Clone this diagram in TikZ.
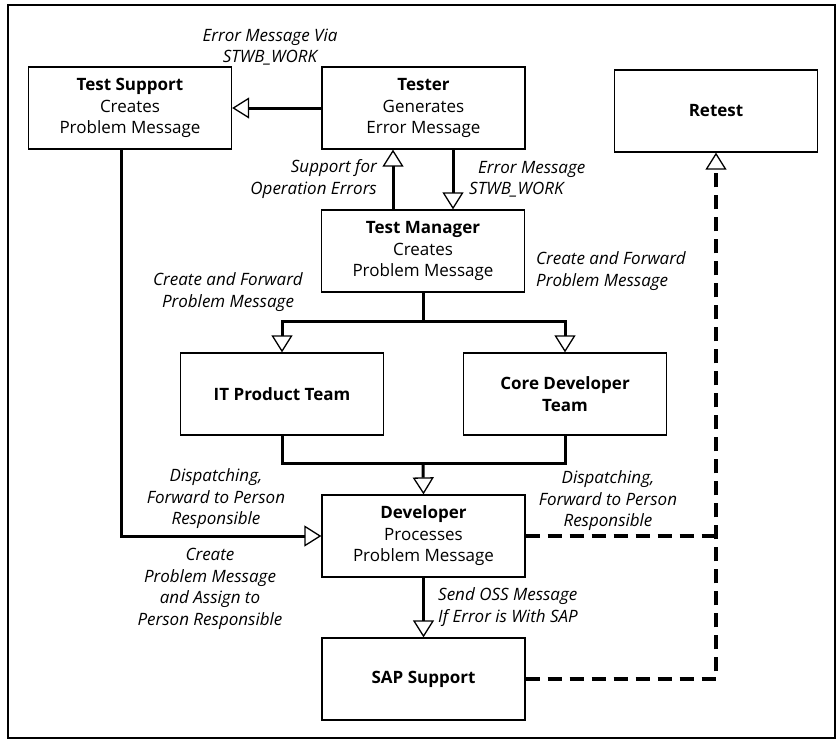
\documentclass[tikz,border=0pt]{standalone}
\usepackage{fontspec}
\setmainfont{Open Sans}
\usetikzlibrary{arrows.meta}
\begin{document}
\begin{tikzpicture}[x=1pt,y=-1pt,
  font=\fontsize{17}{21.5}\selectfont,
  box/.style={draw, line width=1.3pt, minimum width=203pt, minimum height=82pt,
    align=center, inner sep=2pt},
  flow/.style={line width=3pt},
  hollow/.style={-{Triangle[open, length=17pt, width=21pt, line width=1.3pt]}},
  dashline/.style={line width=3.6pt, dash pattern=on 14pt off 8pt},
  lbl/.style={font=\fontsize{17}{21.5}\selectfont\itshape, align=center, inner sep=0pt}]
% page and frame
\useasboundingbox (0,0) rectangle (840,740);
\fill[white] (0,0) rectangle (840,740);
\draw[line width=2pt] (8,5) rectangle (835,738);

% boxes
\node[box] (ts) at (130,108) {\textbf{Test Support}\\Creates\\Problem Message};
\node[box] (tester) at (423.5,108) {\textbf{Tester}\\Generates\\Error Message};
\node[box] (retest) at (716,111) {\textbf{Retest}};
\node[box] (tm) at (423,251) {\textbf{Test Manager}\\Creates\\Problem Message};
\node[box] (it) at (282,394) {\textbf{IT Product Team}};
\node[box] (core) at (565,394) {\textbf{Core Developer}\\\textbf{Team}};
\node[box] (dev) at (423.5,536) {\textbf{Developer}\\Processes\\Problem Message};
\node[box] (sap) at (423.5,679) {\textbf{SAP Support}};

% junction points
\coordinate (split) at (423,321);
\coordinate (merge) at (423,463);
\coordinate (tsdrop) at (121,148);
\coordinate (rail) at (716,679);
\coordinate (upx) at (393,0);
\coordinate (downx) at (453,0);

% solid connectors
\draw[flow,hollow] (tester.west) -- (ts.east);
\draw[flow,hollow] (tm.north -| upx) -- (tester.south -| upx);
\draw[flow,hollow] (tester.south -| downx) -- (tm.north -| downx);
\draw[flow] (tm.south) -- (split);
\draw[flow,hollow] (split) -| (it.north);
\draw[flow,hollow] (split) -| (core.north);
\draw[flow] (it.south) |- (merge);
\draw[flow] (core.south) |- (merge);
\draw[flow,hollow] (merge) -- (dev.north);
\draw[flow,hollow] (tsdrop) |- (dev.west);
\draw[flow,hollow] (dev.south) -- (sap.north);

% dashed connectors to retest
\draw[dashline] (dev.east) -- (dev.east -| rail);
\draw[dashline,hollow] (sap.east) -| (retest.south);

% labels
\node[lbl] (l1) at (270,47) {Error Message Via\\STWB\_WORK};
\node[lbl, align=right, anchor=east] (l2) at (377,179) {Support for\\Operation Errors};
\node[lbl, align=left, anchor=west] (l3) at (469,179) {\hspace*{9pt}Error Message\\STWB\_WORK};
\node[lbl] (l4) at (228,292) {Create and Forward\\Problem Message};
\node[lbl, align=left, anchor=west] (l5) at (536,271) {Create and Forward\\Problem Message};
\node[lbl] (l6) at (216,499) {Dispatching,\\Forward to Person\\Responsible};
\node[lbl] (l7) at (210,589) {Create\\Problem Message\\and Assign to\\Person Responsible};
\node[lbl, align=left, anchor=west] (l8) at (438,607) {Send OSS Message\\If Error is With SAP};
\node[lbl] (l9) at (608,501) {Dispatching,\\Forward to Person\\Responsible};
\end{tikzpicture}
\end{document}
